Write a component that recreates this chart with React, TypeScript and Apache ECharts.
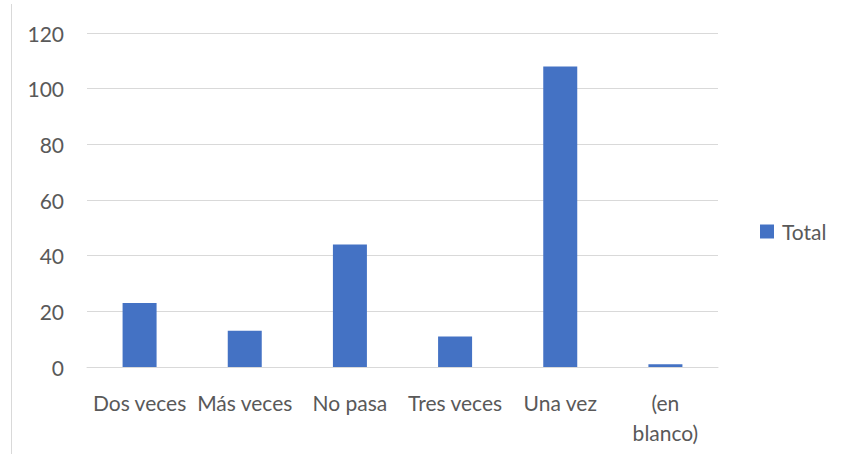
import React, { useEffect, useRef } from "react";
import * as echarts from "echarts";

const categories = ["Dos veces", "Más veces", "No pasa", "Tres veces", "Una vez", "(en blanco)"];
const totals = [23, 13, 44, 11, 108, 1];
const seriesName = "Total";
const yMin = 0;
const yMax = 120;
const yInterval = 20;

const FONT = "Lato, 'Noto Sans', sans-serif";
const TEXT = "#595959";
const FS = 21;

export default function App() {
  const ref = useRef<HTMLDivElement>(null);
  useEffect(() => {
    if (!ref.current) return;
    const chart = echarts.init(ref.current, null, { renderer: "svg" });
    chart.setOption({
      animation: false,
      backgroundColor: "#ffffff",
      textStyle: { fontFamily: FONT },
      grid: { left: 87, right: 125, top: 33, bottom: 87, containLabel: false },
      legend: {
        orient: "vertical",
        left: 760,
        top: 217,
        padding: 0,
        icon: "rect",
        itemWidth: 14,
        itemHeight: 14,
        itemGap: 8,
        textStyle: {
          color: TEXT,
          fontSize: FS,
          fontFamily: FONT,
          lineHeight: 21,
          padding: [8, 0, 0, 3],
        },
        data: [seriesName],
      },
      xAxis: {
        type: "category",
        data: categories,
        axisLine: { show: true, lineStyle: { color: "#D9D9D9", width: 1 } },
        axisTick: { show: false },
        axisLabel: {
          interval: 0,
          color: TEXT,
          fontSize: FS,
          fontFamily: FONT,
          lineHeight: 30,
          margin: 20,
          formatter: (v: string) => (v.startsWith("(") ? v.replace(" ", "\n") : v),
        },
      },
      yAxis: {
        type: "value",
        min: yMin,
        max: yMax,
        interval: yInterval,
        axisLine: { show: false },
        axisTick: { show: false },
        axisLabel: { color: TEXT, fontSize: FS, fontFamily: FONT, margin: 23 },
        splitLine: { lineStyle: { color: "#D9D9D9", width: 1 } },
      },
      graphic: [
        {
          type: "line",
          shape: { x1: 11.5, y1: 4, x2: 11.5, y2: 454 },
          style: { stroke: "#D9D9D9", lineWidth: 1 },
        },
      ],
      series: [
        {
          name: seriesName,
          type: "bar",
          data: totals,
          barWidth: 34,
          itemStyle: { color: "#4472C4" },
        },
      ],
    });
    return () => chart.dispose();
  }, []);
  return (
    <div
      ref={ref}
      style={{ position: "fixed", left: 0, top: 0, width: 843, height: 454 }}
    />
  );
}
